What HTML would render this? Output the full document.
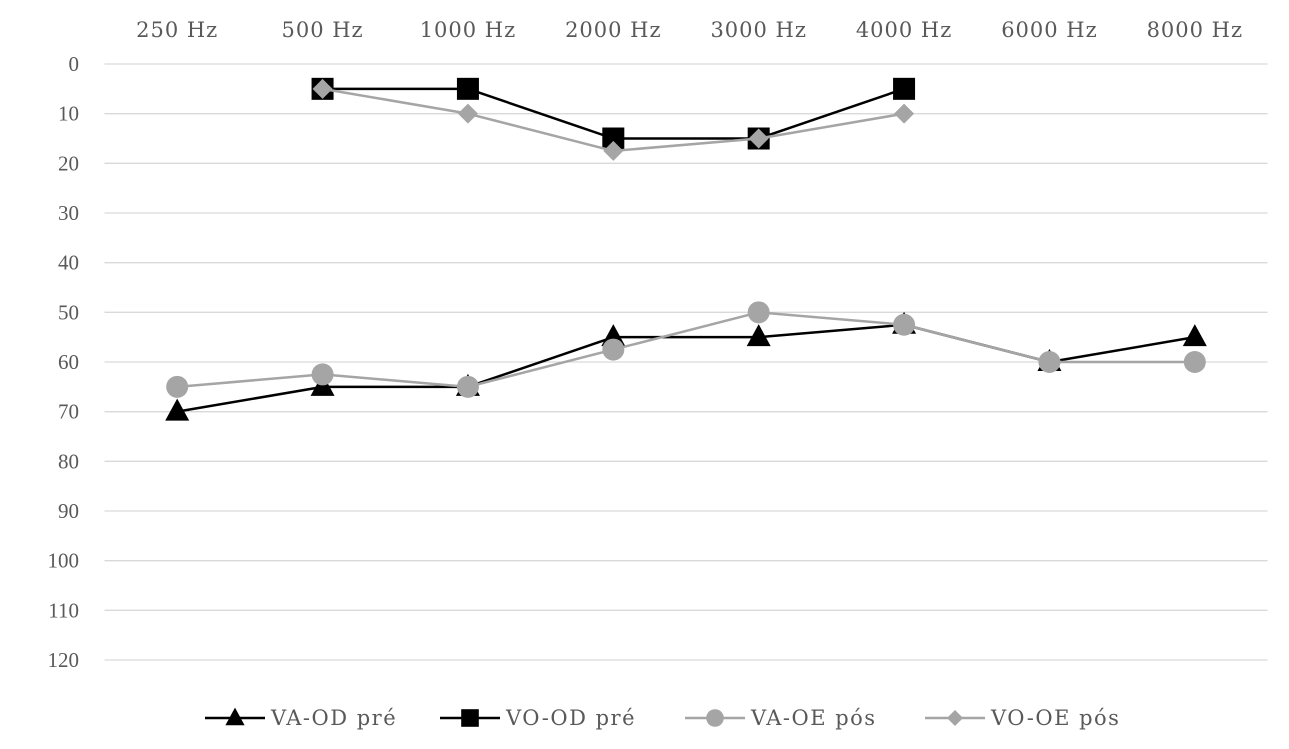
<!DOCTYPE html>
<html><head><meta charset="utf-8"><style>
html,body{margin:0;padding:0;background:#fff;}
svg{display:block;font-family:"Liberation Serif",serif;}
.wide{font-family:"DejaVu Serif","Liberation Serif",serif;}
</style></head><body>
<svg id="chart" width="1289" height="749"></svg>
<script>
const categories=["250 Hz","500 Hz","1000 Hz","2000 Hz","3000 Hz","4000 Hz","6000 Hz","8000 Hz"];
const yTicks=[0,10,20,30,40,50,60,70,80,90,100,110,120];
const vaOdPre=[70,65,65,55,55,52.5,60,55];
const voOdPre=[null,5,5,15,15,5,null,null];
const vaOePos=[65,62.5,65,57.5,50,52.5,60,60];
const voOePos=[null,5,10,17.5,15,10,null,null];
const seriesNames=["VA-OD pré","VO-OD pré","VA-OE pós","VO-OE pós"];

const NS="http://www.w3.org/2000/svg";
const svg=document.getElementById('chart');
const L=104.5,R=1267.5,T=64,B=660;
const step=(R-L)/categories.length;
const xs=i=>L+step*(i+0.5);
const ys=v=>T+(v/120)*(B-T);
function mk(tag,attrs,parent){const e=document.createElementNS(NS,tag);for(const k in attrs)e.setAttribute(k,attrs[k]);(parent||svg).appendChild(e);return e;}

const grid=mk('g',{});


yTicks.forEach(t=>{
  const l=mk('line',{x1:L,x2:R,y1:ys(t),y2:ys(t),stroke:'#d9d9d9','stroke-width':1.3},grid);
  
  
  const tx=mk('text',{x:79,y:ys(t)+7,'text-anchor':'end','font-size':21,fill:'#595959'});
  tx.textContent=t;
  
  
});
categories.forEach((c,i)=>{
  const tx=mk('text',{x:xs(i),y:37,'text-anchor':'middle','font-size':21,fill:'#595959','class':'wide','letter-spacing':1});
  tx.textContent=c;
  
  
});

function marker(type,x,y,color,parent){
  let e;
  if(type==='tri') e=mk('polygon',{points:`${x},${y-13} ${x-12},${y+9} ${x+12},${y+9}`,fill:color},parent);
  else if(type==='sq') e=mk('rect',{x:x-11,y:y-11,width:22,height:22,fill:color},parent);
  else if(type==='circ') e=mk('circle',{cx:x,cy:y,r:11,fill:color},parent);
  else e=mk('polygon',{points:`${x},${y-10} ${x+10},${y} ${x},${y+10} ${x-10},${y}`,fill:color},parent);
  
  
}
function drawSeries(vals,type,color,name){
  const g=mk('g',{});
  
  
  let d='',pen=false;
  vals.forEach((v,i)=>{if(v==null){pen=false;return;}d+=(pen?'L':'M')+xs(i)+' '+ys(v)+' ';pen=true;});
  const p=mk('path',{d:d,fill:'none',stroke:color,'stroke-width':2.5,'stroke-linejoin':'round'},g);
  
  
  vals.forEach((v,i)=>{if(v!=null)marker(type,xs(i),ys(v),color,g);});
}
drawSeries(vaOdPre,'tri','#000','series-va-od-pre');
drawSeries(voOdPre,'sq','#000','series-vo-od-pre');
drawSeries(vaOePos,'circ','#a5a5a5','series-va-oe-pos');
drawSeries(voOePos,'dia','#a5a5a5','series-vo-oe-pos');

const legend=mk('g',{});


const lx=[205,440,685,925],types=['tri','sq','circ','dia'],cols=['#000','#000','#a5a5a5','#a5a5a5'];
seriesNames.forEach((n,i)=>{
  const g=mk('g',{},legend);
  
  
  mk('line',{x1:lx[i],x2:lx[i]+60,y1:718,y2:718,stroke:cols[i],'stroke-width':2.5},g);
  const gg=mk('g',{transform:`translate(${lx[i]+30},718) scale(0.8) translate(${-(lx[i]+30)},-718)`},g);
  marker(types[i],lx[i]+30,718,cols[i],gg);
  const t=mk('text',{x:lx[i]+66,y:725,'font-size':21,fill:'#595959','class':'wide','letter-spacing':1.5},g);
  t.textContent=n;
});
</script>
</body></html>
